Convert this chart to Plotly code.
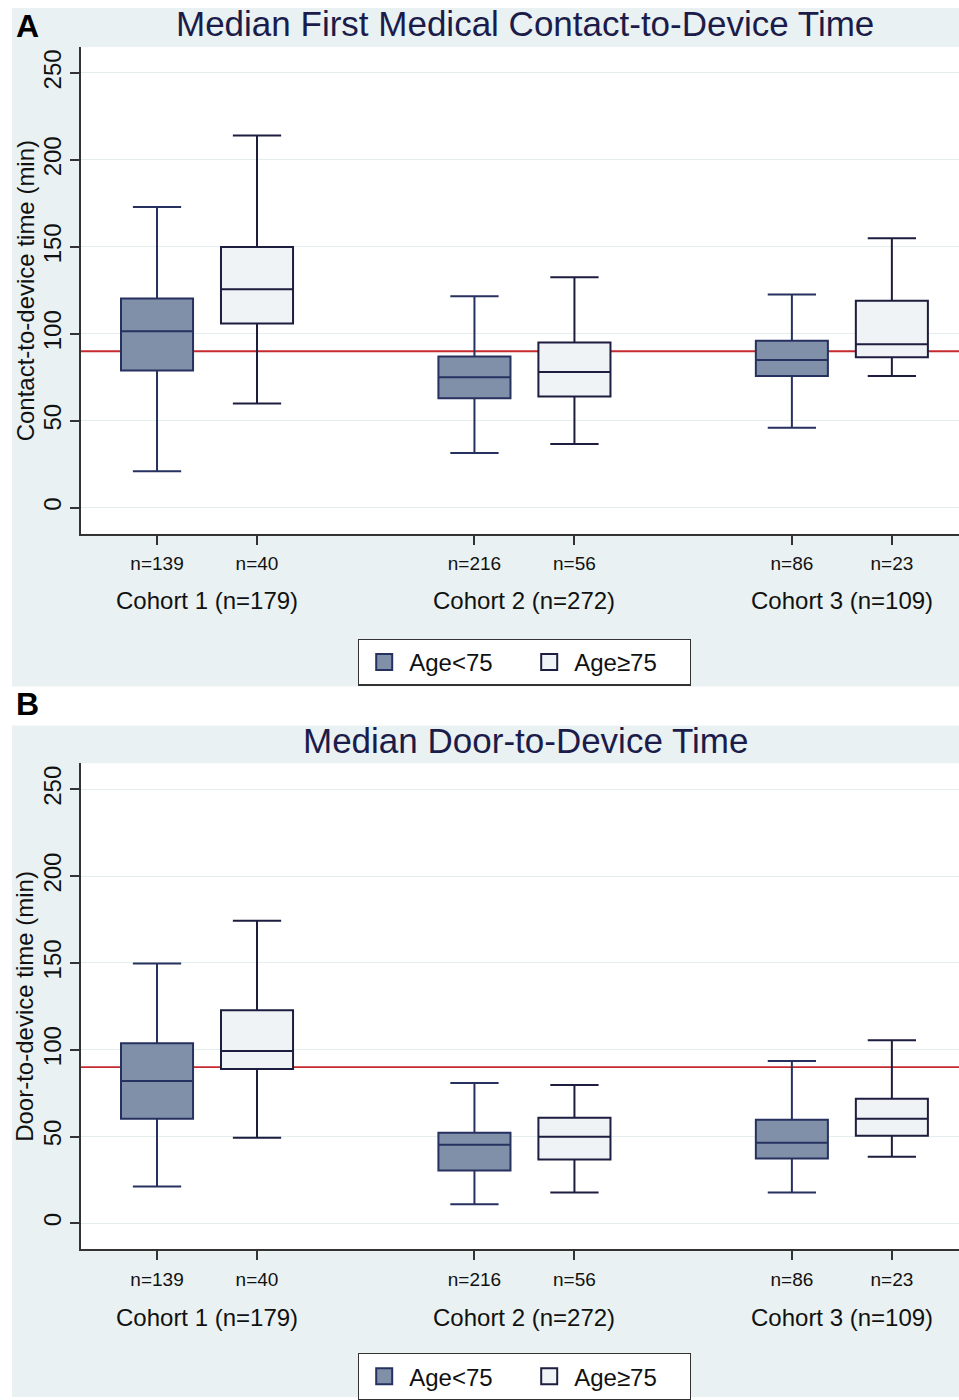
import plotly.graph_objects as go

# ---------------- data ----------------
cohorts = ["Cohort 1 (n=179)", "Cohort 2 (n=272)", "Cohort 3 (n=109)"]
groups = ["Age<75", "Age≥75"]
n_young = ["n=139", "n=216", "n=86"]
n_old = ["n=40", "n=56", "n=23"]
target = 90

# Panel A: First medical contact-to-device time (min)
a_young_low = [21, 31.5, 46]
a_young_q1 = [79, 63, 75.7]
a_young_med = [101.5, 75, 85]
a_young_q3 = [120.4, 87, 96]
a_young_high = [173, 121.6, 122.7]

a_old_low = [60, 36.7, 75.7]
a_old_q1 = [106, 64, 86.6]
a_old_med = [125.6, 78, 94]
a_old_q3 = [150, 95, 119]
a_old_high = [214, 132.5, 155]

# Panel B: Door-to-device time (min)
b_young_low = [21.2, 10.9, 17.8]
b_young_q1 = [60.2, 30.4, 37.3]
b_young_med = [82, 45.3, 46.4]
b_young_q3 = [103.8, 52.2, 59.6]
b_young_high = [149.7, 80.8, 93.5]

b_old_low = [49.3, 17.8, 38.4]
b_old_q1 = [88.9, 36.7, 50.5]
b_old_med = [99.2, 49.9, 60.2]
b_old_q3 = [122.7, 60.8, 71.7]
b_old_high = [174.3, 79.7, 105.5]

y_ticks = [0, 50, 100, 150, 200, 250]

# ---------------- styling ----------------
W, H = 959, 1400
FONT = "Liberation Sans, Arial, Helvetica, sans-serif"
PANEL_BG = "#e9f1f2"
TITLE_COLOR = "#1c1c4a"
YOUNG_FILL = "#8090a8"
YOUNG_LINE = "#26315f"
OLD_FILL = "#f0f3f6"
OLD_LINE = "#1d1d3f"
RED = "#c62a2f"
AXIS_COLOR = "#333333"
GRID = "#e3eeee"

centers = [1, 2, 3]
offset = 0.1575
x_young = [c - offset for c in centers]
x_old = [c + offset for c in centers]
box_w = 0.227


def py(px):
    return 1 - px / H


def px_x(px):
    return px / W


fig = go.Figure()

panels = [
    dict(xa="x", ya="y", legend="legend",
         young=(a_young_low, a_young_q1, a_young_med, a_young_q3, a_young_high),
         old=(a_old_low, a_old_q1, a_old_med, a_old_q3, a_old_high)),
    dict(xa="x2", ya="y2", legend="legend2",
         young=(b_young_low, b_young_q1, b_young_med, b_young_q3, b_young_high),
         old=(b_old_low, b_old_q1, b_old_med, b_old_q3, b_old_high)),
]

for p in panels:
    for xs, stats, fill, line, name in [
        (x_young, p["young"], YOUNG_FILL, YOUNG_LINE, groups[0]),
        (x_old, p["old"], OLD_FILL, OLD_LINE, groups[1]),
    ]:
        lo, q1, med, q3, hi = stats
        fig.add_trace(go.Box(
            x=xs, q1=q1, median=med, q3=q3, lowerfence=lo, upperfence=hi,
            width=box_w, whiskerwidth=0.67,
            fillcolor=fill, line=dict(color=line, width=2),
            name=name, showlegend=False, hoverinfo="skip",
            xaxis=p["xa"], yaxis=p["ya"],
        ))
    # legend entries
    for fill, line, name in [(YOUNG_FILL, YOUNG_LINE, groups[0]), (OLD_FILL, OLD_LINE, groups[1])]:
        fig.add_trace(go.Scatter(
            x=[None], y=[None], mode="markers", name=name,
            marker=dict(symbol="square", size=16, color=fill, line=dict(color=line, width=2)),
            legend=p["legend"], xaxis=p["xa"], yaxis=p["ya"], showlegend=True,
        ))

# panel geometry (pixels)
plot_left = 81
panel_defs = [
    dict(top=47, bottom=535, bg=(8, 688), title="Median First Medical Contact-to-Device Time",
         title_y=24, ytitle="Contact-to-device time (min)", ytitle_y=292,
         cohort_y=602, legend_y=640, letter="A", letter_y=26),
    dict(top=765, bottom=1252, bg=(727, 1400), title="Median Door-to-Device Time",
         title_y=742, ytitle="Door-to-device time (min)", ytitle_y=1009,
         cohort_y=1320, legend_y=1356, letter="B", letter_y=706),
]

axis_common_x = dict(
    range=[0.603, 3.369], showgrid=False, zeroline=False, showline=True,
    linecolor=AXIS_COLOR, linewidth=1.5, ticks="outside", ticklen=9, tickwidth=1.5,
    tickcolor=AXIS_COLOR, tickvals=x_young + x_old, ticktext=n_young + n_old,
    tickfont=dict(family=FONT, size=19, color="#111111"), ticklabelstandoff=3,
    automargin=False, fixedrange=True,
)
axis_common_y = dict(
    range=[-15, 265], showgrid=True, gridcolor=GRID, gridwidth=1, zeroline=False,
    showline=True, linecolor=AXIS_COLOR, linewidth=1.5, ticks="outside", ticklen=9,
    tickwidth=1.5, tickcolor=AXIS_COLOR, tickvals=y_ticks, tickangle=-90,
    tickfont=dict(family=FONT, size=24, color="#111111"), ticklabelstandoff=0,
    automargin=False, fixedrange=True,
)

shapes = []
annotations = []
layout_axes = {}
for i, pd_ in enumerate(panel_defs):
    sx = "" if i == 0 else str(i + 1)
    xname, yname = "xaxis" + sx, "yaxis" + sx
    xref, yref = "x" + sx, "y" + sx
    layout_axes[xname] = dict(axis_common_x, domain=[px_x(plot_left), 1.0], anchor=yref)
    layout_axes[yname] = dict(axis_common_y, domain=[py(pd_["bottom"]), py(pd_["top"])], anchor=xref)

    shapes.append(dict(type="rect", xref="paper", yref="paper", x0=px_x(12), x1=1,
                       y0=py(pd_["bg"][1]), y1=py(pd_["bg"][0]),
                       fillcolor=PANEL_BG, line=dict(width=0), layer="below"))
    shapes.append(dict(type="rect", xref=xref + " domain", yref=yref + " domain", x0=0, x1=1,
                       y0=0, y1=1, fillcolor="white", line=dict(width=0), layer="below"))
    shapes.append(dict(type="line", xref=xref + " domain", yref=yref, x0=0, x1=1,
                       y0=target, y1=target, line=dict(color=RED, width=1.8), layer="below"))

    annotations.append(dict(text=pd_["title"], xref="paper", yref="paper",
                            x=px_x(525), y=py(pd_["title_y"]), xanchor="center", yanchor="middle",
                            showarrow=False, font=dict(family=FONT, size=35, color=TITLE_COLOR)))
    annotations.append(dict(text=pd_["ytitle"], xref="paper", yref="paper", textangle=-90,
                            x=px_x(25), y=py(pd_["ytitle_y"]), xanchor="center", yanchor="middle",
                            showarrow=False, font=dict(family=FONT, size=24, color="#111111")))
    annotations.append(dict(text="<b>" + pd_["letter"] + "</b>", xref="paper", yref="paper",
                            x=px_x(14), y=py(pd_["letter_y"]), xanchor="left", yanchor="middle",
                            showarrow=False, font=dict(family=FONT, size=32, color="#000000")))
    for c, lab in zip(centers, cohorts):
        annotations.append(dict(text=lab, xref=xref, yref="paper", x=c, y=py(pd_["cohort_y"]),
                                xanchor="center", yanchor="middle", showarrow=False,
                                font=dict(family=FONT, size=24, color="#111111")))

legend_common = dict(
    orientation="h", xanchor="center", x=px_x(524.5), yanchor="top",
    bgcolor="white", bordercolor=AXIS_COLOR, borderwidth=1.2,
    font=dict(family=FONT, size=24, color="#111111"),
    itemclick=False, itemdoubleclick=False, itemwidth=40, entrywidth=110,
)

fig.update_layout(
    width=W, height=H, margin=dict(l=0, r=0, t=0, b=0),
    paper_bgcolor="white", plot_bgcolor="white",
    showlegend=True, boxmode="overlay",
    shapes=shapes, annotations=annotations,
    legend=dict(legend_common, y=py(panel_defs[0]["legend_y"])),
    legend2=dict(legend_common, y=py(panel_defs[1]["legend_y"])),
    **layout_axes,
)

fig.write_html("out.html", config={"displayModeBar": False},
               post_script="document.body.style.margin='0';")
